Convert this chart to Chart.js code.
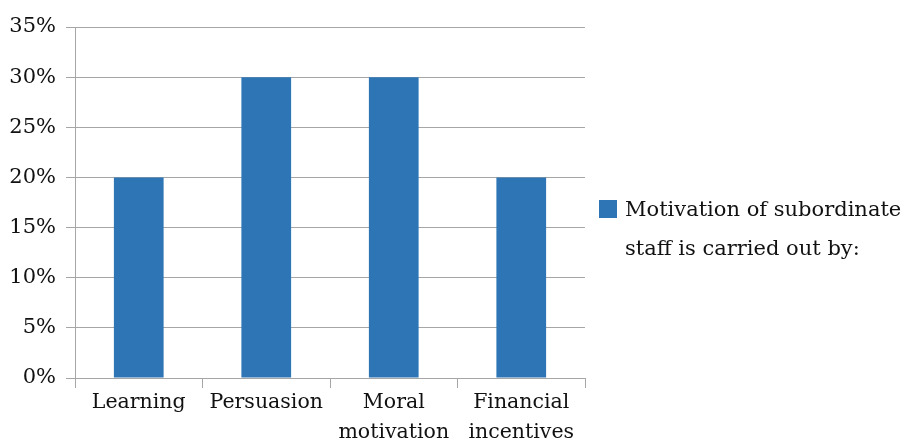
<!DOCTYPE html>
<html>
<head>
<meta charset="utf-8">
<script src="https://cdn.jsdelivr.net/npm/chart.js@4"></script>
<style>
  html, body { margin: 0; padding: 0; background: #fff; }
  #wrap { width: 904px; height: 443px; }
</style>
</head>
<body>
<div id="wrap"><canvas id="myChart" width="904" height="443"></canvas></div>
<script>
'use strict'
// data
let categories = ['Learning', 'Persuasion', ['Moral', 'motivation'], ['Financial', 'incentives']];
let values = [20, 30, 30, 20];
let seriesName = ['Motivation of subordinate', 'staff is carried out by:'];
let yMax = 35;
let yStep = 5;

let barColor = '#2E75B6';
let gridColor = '#a6a6a6';
let textColor = '#111111';
let fontFamily = '"DejaVu Serif", serif';

// legend with a two line label, drawn next to the plot
let sideLegend = {
    id: 'sideLegend',
    afterDraw(chart) {
        let ctx = chart.ctx;
        let area = chart.chartArea;
        let ds = chart.data.datasets[0];
        let x = area.right + 14;
        let y = 200;
        ctx.save();
        ctx.fillStyle = ds.backgroundColor;
        ctx.fillRect(x, y, 18, 18);
        ctx.fillStyle = textColor;
        ctx.font = '21px ' + fontFamily;
        ctx.textAlign = 'left';
        ctx.textBaseline = 'alphabetic';
        for (let i = 0; i < ds.label.length; i++) {
            ctx.fillText(ds.label[i], x + 26, y + 16 + i * 39);
        }
        ctx.restore();
    }
};

let ctx = document.getElementById('myChart').getContext('2d');
let myChart = new Chart(ctx, {
    type: 'bar',
    data: {
        labels: categories,
        datasets: [{
            label: seriesName,
            data: values,
            backgroundColor: barColor,
            borderWidth: 0,
            barPercentage: 0.39,
            categoryPercentage: 1
        }]
    },
    options: {
        responsive: false,
        animation: false,
        layout: { padding: { top: 27, right: 319, left: 0, bottom: 0 } },
        plugins: {
            legend: { display: false },
            tooltip: { enabled: false }
        },
        scales: {
            x: {
                grid: {
                    display: true,
                    drawOnChartArea: false,
                    drawTicks: true,
                    tickLength: 10,
                    color: gridColor
                },
                border: { color: gridColor, width: 1 },
                ticks: {
                    color: textColor,
                    font: { family: fontFamily, size: 20.5, lineHeight: 1.45 },
                    padding: 0,
                    maxRotation: 0,
                    autoSkip: false
                },
                afterFit(scale) { scale.height = 65; }
            },
            y: {
                min: 0,
                max: yMax,
                grid: {
                    color: gridColor,
                    drawTicks: true,
                    tickLength: 9
                },
                border: { color: gridColor, width: 1 },
                ticks: {
                    stepSize: yStep,
                    color: textColor,
                    font: { family: fontFamily, size: 21 },
                    padding: 10,
                    callback: function (v) { return v + '%'; }
                },
                afterFit(scale) { scale.width = 75; }
            }
        }
    },
    plugins: [sideLegend]
});
</script>
</body>
</html>
